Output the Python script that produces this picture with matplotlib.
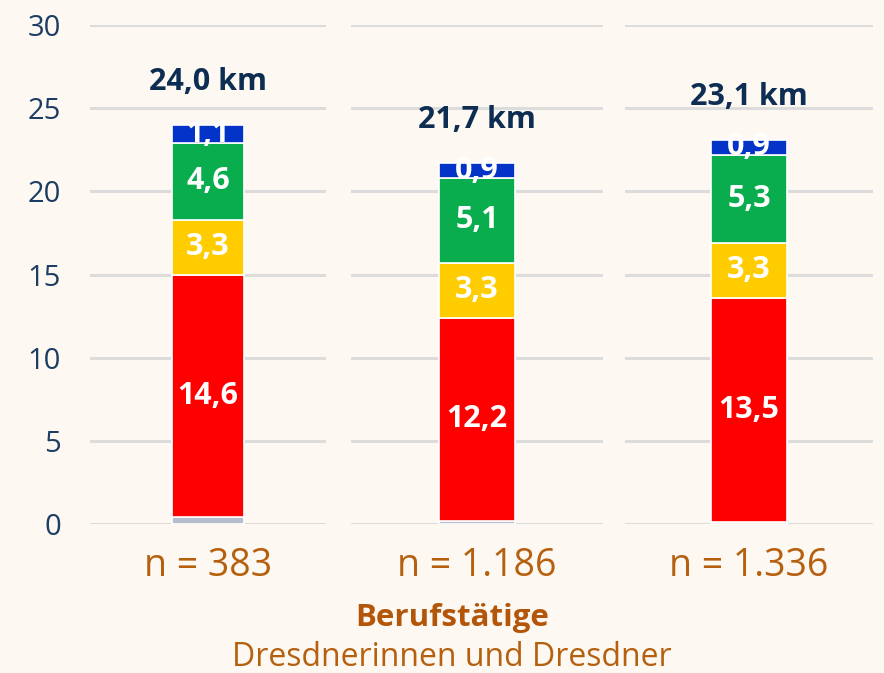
import matplotlib
matplotlib.use("Agg")
import matplotlib.pyplot as plt

plt.rcParams['font.family'] = ['Open Sans', 'DejaVu Sans']

groups = ["n = 383", "n = 1.186", "n = 1.336"]
gray = [0.4, 0.2, 0.1]
red = [14.6, 12.2, 13.5]
yellow = [3.3, 3.3, 3.3]
green = [4.6, 5.1, 5.3]
blue = [1.1, 0.9, 0.9]
totals = ["24,0 km", "21,7 km", "23,1 km"]
total_vals = [24.0, 21.7, 23.1]
yticks = [0, 5, 10, 15, 20, 25, 30]

series = [gray, red, yellow, green, blue]
colors = ["#b6bdcc", "#ff0000", "#ffcc00", "#0aad4e", "#0433c8"]
labeled = [False, True, True, True, True]

bg = "#fdf8f2"
W, H = 884, 673
fig = plt.figure(figsize=(W / 100, H / 100), dpi=100, facecolor=bg)

panels_px = [(90, 326), (351, 603), (625, 873)]
y0_px, y30_px = 524, 25

for i, (xl, xr) in enumerate(panels_px):
    ax = fig.add_axes([xl / W, (H - y0_px) / H, (xr - xl) / W, (y0_px - y30_px) / H])
    ax.set_facecolor(bg)
    ax.set_xlim(-0.5, 0.5)
    ax.set_ylim(0, 30)
    ax.set_yticks(yticks)
    ax.grid(axis='y', color="#dcdcdc", linewidth=2.2, zorder=0)
    ax.set_axisbelow(True)
    for s in ax.spines.values():
        s.set_visible(False)
    ax.tick_params(length=0)
    ax.set_xticks([])
    if i == 0:
        ax.set_yticklabels([str(t) for t in yticks], fontsize=21, color="#1d3d63")
        ax.tick_params(axis='y', pad=21)
    else:
        ax.set_yticklabels([])
    bottom = 0.0
    for vals, c, lab in zip(series, colors, labeled):
        v = vals[i]
        ax.bar(0, v, width=0.305, bottom=bottom, color=c, edgecolor="white",
               linewidth=1.2, zorder=2)
        if lab:
            ax.text(0, bottom + v / 2, f"{v:.1f}".replace(".", ","), ha="center",
                    va="center", color="white", fontsize=22, fontweight="bold", zorder=3)
        bottom += v
    ax.text(0, total_vals[i] + 2.6, totals[i], ha="center", va="center",
            color="#0d2d52", fontsize=22, fontweight="bold")
    ax.text(0, -2.55, groups[i], ha="center", va="center", color="#b5600f",
            fontsize=27, clip_on=False)

fig.text(452 / W, 1 - 618 / H, "Berufstätige", ha="center", va="center",
         color="#b3560a", fontsize=22.5, fontweight="bold")
fig.text(452 / W, 1 - 657 / H, "Dresdnerinnen und Dresdner", ha="center", va="center",
         color="#b5600f", fontsize=23)

fig.savefig("out.png", dpi=100, facecolor=bg)
